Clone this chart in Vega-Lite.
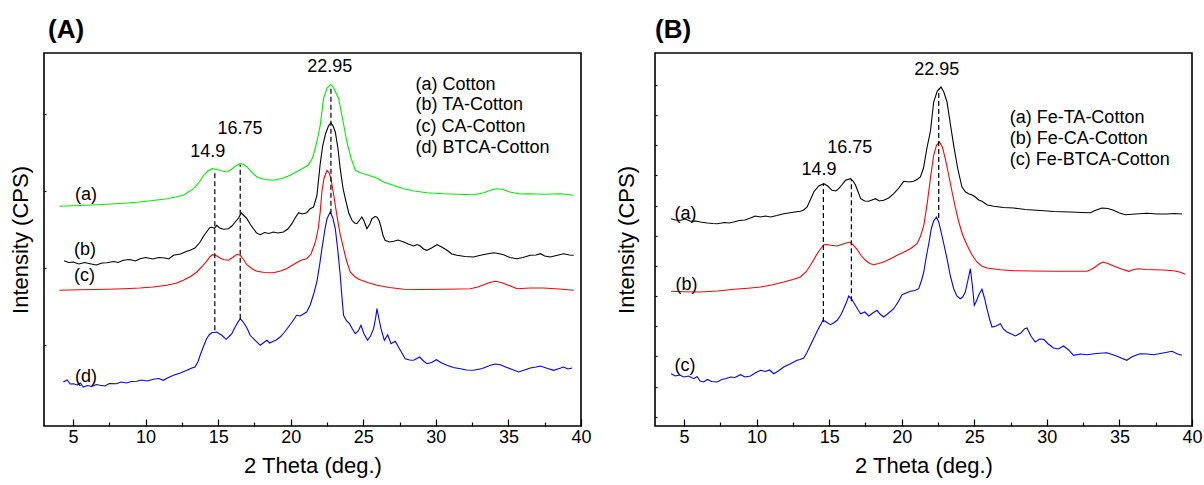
{
  "$schema": "https://vega.github.io/schema/vega-lite/v6.json",
  "padding": {"left": 8, "top": 16, "right": 5, "bottom": 2},
  "background": "white",
  "spacing": 74,
  "bounds": "flush",
  "resolve": {"scale": {"color": "independent"}},
  "config": {
    "view": {"stroke": "#000", "strokeWidth": 1.6},
    "font": "Liberation Sans",
    "axis": {"domain": false, "grid": false, "tickColor": "#000", "tickWidth": 1.2, "labelFont": "Liberation Sans", "labelFontSize": 18, "labelColor": "#000", "titleFont": "Liberation Sans", "titleFontSize": 22, "titleFontWeight": "normal", "titleColor": "#000"},
    "title": {"font": "Liberation Sans", "fontSize": 26, "fontWeight": "bold", "anchor": "start", "frame": "group", "color": "#000", "offset": 10},
    "text": {"font": "Liberation Sans", "fontSize": 18, "color": "#000"}
  },
  "hconcat": [
    {
      "width": 537,
      "height": 373,
      "title": {"text": "(A)", "dx": 4},
      "encoding": {
        "x": {"field": "x", "type": "quantitative", "scale": {"domain": [3, 40], "nice": false, "zero": false},
          "axis": {"values": [5, 7.5, 10, 12.5, 15, 17.5, 20, 22.5, 25, 27.5, 30, 32.5, 35, 37.5, 40], "labelExpr": "datum.value % 5 === 0 ? datum.label : ''", "tickSize": {"condition": {"test": "datum.value % 5 === 0", "value": -7}, "value": -4}, "labelPadding": 9, "labelFlush": false, "labelOverlap": false, "title": "2 Theta (deg.)", "titlePadding": 6}},
        "y": {"field": "y", "type": "quantitative", "scale": {"domain": [0, 373], "nice": false, "zero": false},
          "axis": {"values": [81, 158, 235, 312], "labels": false, "tickSize": -2, "title": "Intensity (CPS)", "titlePadding": 11}}
      },
      "layer": [
        {
          "data": {"values": [
{"s":"a","x":4.06,"y":219.7},{"s":"a","x":5,"y":220.3},{"s":"a","x":6,"y":220.8},{"s":"a","x":7.3,"y":221.7},{"s":"a","x":8.5,"y":222.8},{"s":"a","x":9.6,"y":224},{"s":"a","x":10.5,"y":225.5},{"s":"a","x":11.5,"y":227.3},{"s":"a","x":12.6,"y":230.7},{"s":"a","x":13.3,"y":237.3},{"s":"a","x":13.7,"y":244},{"s":"a","x":14.0,"y":250.7},{"s":"a","x":14.3,"y":255},{"s":"a","x":14.6,"y":257.3},{"s":"a","x":14.9,"y":256.5},{"s":"a","x":15.3,"y":255},{"s":"a","x":15.6,"y":254},{"s":"a","x":15.9,"y":256.5},{"s":"a","x":16.2,"y":260},{"s":"a","x":16.5,"y":262.3},{"s":"a","x":16.75,"y":261.5},{"s":"a","x":17.0,"y":259},{"s":"a","x":17.3,"y":254},{"s":"a","x":17.67,"y":249},{"s":"a","x":18.2,"y":246.5},{"s":"a","x":18.8,"y":245.7},{"s":"a","x":19.4,"y":247.5},{"s":"a","x":19.97,"y":250.7},{"s":"a","x":20.65,"y":256.3},{"s":"a","x":21.2,"y":260.7},{"s":"a","x":21.5,"y":268},{"s":"a","x":21.8,"y":284},{"s":"a","x":22.03,"y":300.7},{"s":"a","x":22.26,"y":327.3},{"s":"a","x":22.5,"y":338},{"s":"a","x":22.77,"y":341.7},{"s":"a","x":23.0,"y":337},{"s":"a","x":23.3,"y":327.3},{"s":"a","x":23.6,"y":305},{"s":"a","x":23.87,"y":284},{"s":"a","x":24.15,"y":268},{"s":"a","x":24.45,"y":255.7},{"s":"a","x":24.8,"y":253.3},{"s":"a","x":25.2,"y":251.5},{"s":"a","x":25.7,"y":249},{"s":"a","x":26.0,"y":247.5},{"s":"a","x":26.4,"y":244},{"s":"a","x":27.1,"y":240.5},{"s":"a","x":27.78,"y":237.3},{"s":"a","x":28.5,"y":235},{"s":"a","x":29.39,"y":233.3},{"s":"a","x":30.5,"y":232.2},{"s":"a","x":31.5,"y":231.8},{"s":"a","x":32.6,"y":231.3},{"s":"a","x":33.3,"y":233.3},{"s":"a","x":33.8,"y":236},{"s":"a","x":34.2,"y":237.3},{"s":"a","x":34.6,"y":236.5},{"s":"a","x":35.1,"y":234},{"s":"a","x":35.8,"y":232},{"s":"a","x":36.5,"y":232.3},{"s":"a","x":37.4,"y":231.7},{"s":"a","x":38.6,"y":232.3},{"s":"a","x":39.5,"y":230.7},
{"s":"b","x":4.38,"y":165.3},{"s":"b","x":4.7,"y":163.5},{"s":"b","x":5.02,"y":164},{"s":"b","x":5.4,"y":162},{"s":"b","x":5.8,"y":163.5},{"s":"b","x":6.17,"y":162.3},{"s":"b","x":6.6,"y":161},{"s":"b","x":7.0,"y":163},{"s":"b","x":7.32,"y":163.3},{"s":"b","x":7.8,"y":164.5},{"s":"b","x":8.1,"y":163.5},{"s":"b","x":8.47,"y":165.7},{"s":"b","x":8.9,"y":166.5},{"s":"b","x":9.3,"y":165},{"s":"b","x":9.62,"y":167.3},{"s":"b","x":10.0,"y":168.5},{"s":"b","x":10.5,"y":167},{"s":"b","x":10.9,"y":168.5},{"s":"b","x":11.34,"y":168},{"s":"b","x":11.6,"y":167},{"s":"b","x":11.92,"y":170.7},{"s":"b","x":12.4,"y":172},{"s":"b","x":12.8,"y":174.5},{"s":"b","x":13.07,"y":175.7},{"s":"b","x":13.4,"y":178},{"s":"b","x":13.76,"y":184},{"s":"b","x":14.0,"y":190},{"s":"b","x":14.2,"y":194},{"s":"b","x":14.4,"y":198},{"s":"b","x":14.56,"y":199},{"s":"b","x":14.75,"y":197.5},{"s":"b","x":14.9,"y":200.7},{"s":"b","x":15.1,"y":198},{"s":"b","x":15.37,"y":196.7},{"s":"b","x":15.7,"y":197.3},{"s":"b","x":15.95,"y":200},{"s":"b","x":16.17,"y":204},{"s":"b","x":16.4,"y":208},{"s":"b","x":16.6,"y":213},{"s":"b","x":16.8,"y":210},{"s":"b","x":16.98,"y":207.3},{"s":"b","x":17.2,"y":202},{"s":"b","x":17.43,"y":197.3},{"s":"b","x":17.65,"y":193},{"s":"b","x":17.9,"y":191.3},{"s":"b","x":18.2,"y":193.5},{"s":"b","x":18.5,"y":192.5},{"s":"b","x":18.8,"y":194},{"s":"b","x":19.1,"y":193},{"s":"b","x":19.5,"y":194},{"s":"b","x":19.8,"y":197},{"s":"b","x":20.08,"y":202.3},{"s":"b","x":20.3,"y":208},{"s":"b","x":20.54,"y":213.3},{"s":"b","x":20.8,"y":212},{"s":"b","x":21.1,"y":213.3},{"s":"b","x":21.34,"y":217.3},{"s":"b","x":21.57,"y":219},{"s":"b","x":21.8,"y":230},{"s":"b","x":22.03,"y":262},{"s":"b","x":22.2,"y":280},{"s":"b","x":22.4,"y":292.3},{"s":"b","x":22.6,"y":300},{"s":"b","x":22.77,"y":303},{"s":"b","x":22.92,"y":300},{"s":"b","x":23.07,"y":294},{"s":"b","x":23.25,"y":278},{"s":"b","x":23.41,"y":257.3},{"s":"b","x":23.6,"y":238},{"s":"b","x":23.76,"y":227.3},{"s":"b","x":24.0,"y":213},{"s":"b","x":24.22,"y":205.7},{"s":"b","x":24.4,"y":203},{"s":"b","x":24.56,"y":202.3},{"s":"b","x":24.75,"y":206},{"s":"b","x":24.9,"y":209},{"s":"b","x":25.05,"y":205},{"s":"b","x":25.25,"y":197.3},{"s":"b","x":25.45,"y":202},{"s":"b","x":25.6,"y":207.3},{"s":"b","x":25.8,"y":209.5},{"s":"b","x":25.94,"y":209},{"s":"b","x":26.1,"y":205},{"s":"b","x":26.22,"y":199},{"s":"b","x":26.35,"y":191},{"s":"b","x":26.5,"y":185.7},{"s":"b","x":26.8,"y":184},{"s":"b","x":27.1,"y":184.7},{"s":"b","x":27.4,"y":186},{"s":"b","x":27.78,"y":184},{"s":"b","x":28.1,"y":182},{"s":"b","x":28.47,"y":180},{"s":"b","x":28.7,"y":181.5},{"s":"b","x":28.93,"y":180},{"s":"b","x":29.15,"y":177},{"s":"b","x":29.39,"y":175.7},{"s":"b","x":29.7,"y":178},{"s":"b","x":30.08,"y":181.3},{"s":"b","x":30.4,"y":179},{"s":"b","x":30.77,"y":175.7},{"s":"b","x":31.1,"y":172},{"s":"b","x":31.46,"y":170.7},{"s":"b","x":32.0,"y":169.5},{"s":"b","x":32.6,"y":169},{"s":"b","x":33.0,"y":170.5},{"s":"b","x":33.5,"y":172},{"s":"b","x":33.98,"y":173.3},{"s":"b","x":34.3,"y":172.5},{"s":"b","x":34.67,"y":171.3},{"s":"b","x":35.1,"y":168.5},{"s":"b","x":35.59,"y":167.3},{"s":"b","x":36.0,"y":168.5},{"s":"b","x":36.51,"y":170.7},{"s":"b","x":36.9,"y":171},{"s":"b","x":37.2,"y":172.3},{"s":"b","x":37.5,"y":170},{"s":"b","x":37.89,"y":169},{"s":"b","x":38.3,"y":170.5},{"s":"b","x":38.81,"y":172.3},{"s":"b","x":39.2,"y":171},{"s":"b","x":39.5,"y":170.7},
{"s":"c","x":4.06,"y":135.7},{"s":"c","x":5.5,"y":136.2},{"s":"c","x":7.32,"y":136.7},{"s":"c","x":8.5,"y":137.3},{"s":"c","x":9.62,"y":138},{"s":"c","x":10.5,"y":139},{"s":"c","x":11.46,"y":140.7},{"s":"c","x":12.1,"y":142.8},{"s":"c","x":12.6,"y":145.7},{"s":"c","x":13.1,"y":149.5},{"s":"c","x":13.53,"y":154},{"s":"c","x":13.9,"y":159.5},{"s":"c","x":14.2,"y":164.7},{"s":"c","x":14.45,"y":169.5},{"s":"c","x":14.63,"y":171.3},{"s":"c","x":14.85,"y":170.5},{"s":"c","x":15.13,"y":168},{"s":"c","x":15.4,"y":166.3},{"s":"c","x":15.7,"y":165.7},{"s":"c","x":16.0,"y":168.5},{"s":"c","x":16.29,"y":171.7},{"s":"c","x":16.52,"y":170.7},{"s":"c","x":16.75,"y":166.5},{"s":"c","x":16.98,"y":161.3},{"s":"c","x":17.3,"y":157.5},{"s":"c","x":17.67,"y":154.7},{"s":"c","x":18.2,"y":153.5},{"s":"c","x":18.8,"y":153.3},{"s":"c","x":19.3,"y":155},{"s":"c","x":19.7,"y":157.3},{"s":"c","x":20.4,"y":163.3},{"s":"c","x":20.75,"y":166},{"s":"c","x":21.1,"y":167.3},{"s":"c","x":21.4,"y":172},{"s":"c","x":21.7,"y":184},{"s":"c","x":21.9,"y":198},{"s":"c","x":22.03,"y":214},{"s":"c","x":22.15,"y":235},{"s":"c","x":22.3,"y":248},{"s":"c","x":22.5,"y":255.7},{"s":"c","x":22.65,"y":253},{"s":"c","x":22.77,"y":247.3},{"s":"c","x":22.95,"y":232},{"s":"c","x":23.18,"y":210.7},{"s":"c","x":23.4,"y":192},{"s":"c","x":23.64,"y":177.3},{"s":"c","x":23.85,"y":165},{"s":"c","x":24.1,"y":154},{"s":"c","x":24.4,"y":149.5},{"s":"c","x":24.68,"y":146.7},{"s":"c","x":25.3,"y":143.5},{"s":"c","x":25.94,"y":140.7},{"s":"c","x":26.8,"y":138.5},{"s":"c","x":27.78,"y":136.7},{"s":"c","x":29.0,"y":136.5},{"s":"c","x":30.54,"y":136.7},{"s":"c","x":31.5,"y":137},{"s":"c","x":32.37,"y":137.3},{"s":"c","x":32.9,"y":139},{"s":"c","x":33.3,"y":141.3},{"s":"c","x":33.7,"y":143.5},{"s":"c","x":34.1,"y":144.7},{"s":"c","x":34.5,"y":143.5},{"s":"c","x":34.9,"y":141.3},{"s":"c","x":35.3,"y":139},{"s":"c","x":35.59,"y":137.3},{"s":"c","x":36.5,"y":138},{"s":"c","x":37.4,"y":138},{"s":"c","x":38.5,"y":137},{"s":"c","x":39.5,"y":135.7},
{"s":"d","x":4.33,"y":44},{"s":"d","x":4.6,"y":46},{"s":"d","x":4.8,"y":42},{"s":"d","x":5.02,"y":42.3},{"s":"d","x":5.3,"y":41},{"s":"d","x":5.5,"y":43},{"s":"d","x":5.71,"y":39},{"s":"d","x":6.0,"y":40.5},{"s":"d","x":6.3,"y":39.5},{"s":"d","x":6.6,"y":41.5},{"s":"d","x":6.86,"y":40.7},{"s":"d","x":7.2,"y":40},{"s":"d","x":7.5,"y":42.5},{"s":"d","x":8.0,"y":42.3},{"s":"d","x":8.3,"y":44},{"s":"d","x":8.7,"y":43},{"s":"d","x":9.0,"y":44.5},{"s":"d","x":9.39,"y":44.7},{"s":"d","x":9.7,"y":46},{"s":"d","x":10.1,"y":45},{"s":"d","x":10.54,"y":46.7},{"s":"d","x":10.9,"y":47.5},{"s":"d","x":11.23,"y":45.7},{"s":"d","x":11.5,"y":48},{"s":"d","x":11.92,"y":50.7},{"s":"d","x":12.4,"y":53},{"s":"d","x":12.84,"y":55.7},{"s":"d","x":13.1,"y":57.5},{"s":"d","x":13.4,"y":59},{"s":"d","x":13.6,"y":64},{"s":"d","x":13.76,"y":70.7},{"s":"d","x":14.0,"y":80},{"s":"d","x":14.2,"y":87.3},{"s":"d","x":14.4,"y":91.5},{"s":"d","x":14.56,"y":93.3},{"s":"d","x":14.9,"y":94},{"s":"d","x":15.25,"y":90.7},{"s":"d","x":15.55,"y":86.7},{"s":"d","x":15.75,"y":89.5},{"s":"d","x":15.94,"y":92.3},{"s":"d","x":16.1,"y":97},{"s":"d","x":16.29,"y":102.3},{"s":"d","x":16.52,"y":107.3},{"s":"d","x":16.7,"y":104.5},{"s":"d","x":16.87,"y":100.7},{"s":"d","x":17.05,"y":96},{"s":"d","x":17.2,"y":90.7},{"s":"d","x":17.55,"y":85.7},{"s":"d","x":17.9,"y":80.7},{"s":"d","x":18.1,"y":83},{"s":"d","x":18.36,"y":85.7},{"s":"d","x":18.55,"y":83},{"s":"d","x":18.8,"y":84.7},{"s":"d","x":19.0,"y":86},{"s":"d","x":19.27,"y":89},{"s":"d","x":19.55,"y":93.5},{"s":"d","x":19.84,"y":99},{"s":"d","x":20.1,"y":104},{"s":"d","x":20.4,"y":110.7},{"s":"d","x":20.65,"y":110},{"s":"d","x":20.9,"y":112.3},{"s":"d","x":21.1,"y":114},{"s":"d","x":21.34,"y":121},{"s":"d","x":21.6,"y":133},{"s":"d","x":21.8,"y":144},{"s":"d","x":22.0,"y":162},{"s":"d","x":22.15,"y":177.3},{"s":"d","x":22.35,"y":196},{"s":"d","x":22.5,"y":207.3},{"s":"d","x":22.72,"y":214},{"s":"d","x":22.9,"y":208},{"s":"d","x":23.07,"y":197.3},{"s":"d","x":23.25,"y":175},{"s":"d","x":23.41,"y":150.7},{"s":"d","x":23.55,"y":125},{"s":"d","x":23.64,"y":110.7},{"s":"d","x":23.85,"y":105},{"s":"d","x":24.05,"y":102.3},{"s":"d","x":24.25,"y":97},{"s":"d","x":24.45,"y":92.3},{"s":"d","x":24.65,"y":95},{"s":"d","x":24.84,"y":100.7},{"s":"d","x":25.05,"y":92},{"s":"d","x":25.3,"y":85.7},{"s":"d","x":25.5,"y":90},{"s":"d","x":25.71,"y":97.3},{"s":"d","x":25.85,"y":108},{"s":"d","x":25.94,"y":117.3},{"s":"d","x":26.08,"y":107},{"s":"d","x":26.22,"y":97.3},{"s":"d","x":26.45,"y":85.7},{"s":"d","x":26.68,"y":91.3},{"s":"d","x":26.91,"y":82.3},{"s":"d","x":27.2,"y":84.7},{"s":"d","x":27.55,"y":75.7},{"s":"d","x":27.89,"y":67.3},{"s":"d","x":28.2,"y":66},{"s":"d","x":28.47,"y":65.7},{"s":"d","x":28.88,"y":69},{"s":"d","x":29.15,"y":65},{"s":"d","x":29.39,"y":62.3},{"s":"d","x":29.7,"y":63.5},{"s":"d","x":30.03,"y":66.3},{"s":"d","x":30.4,"y":63},{"s":"d","x":30.77,"y":60.7},{"s":"d","x":31.2,"y":58.5},{"s":"d","x":31.69,"y":57.3},{"s":"d","x":32.1,"y":56},{"s":"d","x":32.6,"y":55.7},{"s":"d","x":33.2,"y":57.5},{"s":"d","x":33.75,"y":60.7},{"s":"d","x":34.1,"y":62},{"s":"d","x":34.44,"y":61.3},{"s":"d","x":34.8,"y":59},{"s":"d","x":35.13,"y":57.3},{"s":"d","x":35.7,"y":54},{"s":"d","x":36.1,"y":56},{"s":"d","x":36.51,"y":58},{"s":"d","x":36.9,"y":59},{"s":"d","x":37.2,"y":60},{"s":"d","x":37.6,"y":58},{"s":"d","x":38.12,"y":55.7},{"s":"d","x":38.5,"y":57.5},{"s":"d","x":38.81,"y":59},{"s":"d","x":39.1,"y":57},{"s":"d","x":39.39,"y":58}
          ]},
          "mark": {"type": "line", "strokeWidth": 1.1},
          "encoding": {
            "color": {"field": "s", "type": "nominal", "scale": {"domain": ["a", "b", "c", "d"], "range": ["#00ee00", "#000000", "#ff0000", "#0000ff"]}, "legend": null}
          }
        },
        {
          "data": {"values": [{"x": 14.77, "y": 95.7, "y2": 255.7}, {"x": 16.52, "y": 107.3, "y2": 261.3}, {"x": 22.77, "y": 212.3, "y2": 339}]},
          "mark": {"type": "rule", "strokeDash": [5, 3], "color": "#000", "strokeWidth": 1.2},
          "encoding": {"y2": {"field": "y2"}}
        },
        {
          "data": {"values": [{"x": 14.28, "y": 274, "t": "14.9"}, {"x": 16.5, "y": 297.3, "t": "16.75"}, {"x": 22.69, "y": 359.5, "t": "22.95"}]},
          "mark": {"type": "text", "align": "center", "baseline": "middle"},
          "encoding": {"text": {"field": "t"}}
        },
        {
          "data": {"values": [{"x": 5.14, "y": 230.7, "t": "(a)"}, {"x": 5.07, "y": 175.7, "t": "(b)"}, {"x": 5.07, "y": 150.5, "t": "(c)"}, {"x": 5.14, "y": 49, "t": "(d)"}, {"x": 28.6, "y": 341.3, "t": "(a) Cotton"}, {"x": 28.6, "y": 320.7, "t": "(b) TA-Cotton"}, {"x": 28.6, "y": 299, "t": "(c) CA-Cotton"}, {"x": 28.6, "y": 278, "t": "(d) BTCA-Cotton"}]},
          "mark": {"type": "text", "align": "left", "baseline": "middle"},
          "encoding": {"text": {"field": "t"}}
        }
      ]
    },
    {
      "width": 537,
      "height": 373,
      "title": {"text": "(B)", "dx": 0},
      "encoding": {
        "x": {"field": "x", "type": "quantitative", "scale": {"domain": [3, 40], "nice": false, "zero": false},
          "axis": {"values": [5, 7.5, 10, 12.5, 15, 17.5, 20, 22.5, 25, 27.5, 30, 32.5, 35, 37.5, 40], "labelExpr": "datum.value % 5 === 0 ? datum.label : ''", "tickSize": {"condition": {"test": "datum.value % 5 === 0", "value": -7}, "value": -4}, "labelPadding": 9, "labelFlush": false, "labelOverlap": false, "title": "2 Theta (deg.)", "titlePadding": 6}},
        "y": {"field": "y", "type": "quantitative", "scale": {"domain": [0, 373], "nice": false, "zero": false},
          "axis": {"values": [9, 39, 70, 100, 130, 160, 190, 220, 251, 281, 311, 341], "labels": false, "tickSize": -2, "title": "Intensity (CPS)", "titlePadding": 16}}
      },
      "layer": [
        {
          "data": {"values": [
{"s":"a","x":4.11,"y":207.3},{"s":"a","x":4.4,"y":206},{"s":"a","x":4.76,"y":205.7},{"s":"a","x":5.1,"y":207},{"s":"a","x":5.44,"y":204.7},{"s":"a","x":5.8,"y":205},{"s":"a","x":6.13,"y":204},{"s":"a","x":6.6,"y":203},{"s":"a","x":7.0,"y":202.5},{"s":"a","x":7.28,"y":202.3},{"s":"a","x":7.8,"y":203.5},{"s":"a","x":8.1,"y":203},{"s":"a","x":8.43,"y":204},{"s":"a","x":8.8,"y":205.5},{"s":"a","x":9.2,"y":206},{"s":"a","x":9.58,"y":208},{"s":"a","x":9.9,"y":210},{"s":"a","x":10.27,"y":209},{"s":"a","x":10.6,"y":210},{"s":"a","x":10.96,"y":209},{"s":"a","x":11.4,"y":210.5},{"s":"a","x":11.87,"y":212.3},{"s":"a","x":12.4,"y":213.5},{"s":"a","x":13.02,"y":214.7},{"s":"a","x":13.25,"y":216},{"s":"a","x":13.48,"y":219},{"s":"a","x":13.7,"y":226},{"s":"a","x":13.94,"y":234},{"s":"a","x":14.28,"y":240},{"s":"a","x":14.63,"y":242.3},{"s":"a","x":14.9,"y":240},{"s":"a","x":15.2,"y":235.7},{"s":"a","x":15.45,"y":235},{"s":"a","x":15.66,"y":237.3},{"s":"a","x":15.9,"y":241.5},{"s":"a","x":16.12,"y":245.7},{"s":"a","x":16.47,"y":247.3},{"s":"a","x":16.65,"y":245},{"s":"a","x":16.82,"y":240.7},{"s":"a","x":17.0,"y":234},{"s":"a","x":17.17,"y":227.3},{"s":"a","x":17.45,"y":225},{"s":"a","x":17.73,"y":224.7},{"s":"a","x":17.95,"y":226},{"s":"a","x":18.19,"y":227.3},{"s":"a","x":18.45,"y":225},{"s":"a","x":18.76,"y":225.7},{"s":"a","x":19.1,"y":228},{"s":"a","x":19.45,"y":232.3},{"s":"a","x":19.8,"y":238},{"s":"a","x":20.14,"y":244.7},{"s":"a","x":20.5,"y":244},{"s":"a","x":20.83,"y":244.7},{"s":"a","x":21.1,"y":247},{"s":"a","x":21.29,"y":249},{"s":"a","x":21.5,"y":258},{"s":"a","x":21.75,"y":279},{"s":"a","x":21.98,"y":295},{"s":"a","x":22.2,"y":324},{"s":"a","x":22.45,"y":335},{"s":"a","x":22.71,"y":339},{"s":"a","x":22.9,"y":334},{"s":"a","x":23.12,"y":324},{"s":"a","x":23.35,"y":302},{"s":"a","x":23.58,"y":280.7},{"s":"a","x":23.85,"y":258},{"s":"a","x":24.15,"y":239},{"s":"a","x":24.4,"y":234},{"s":"a","x":24.61,"y":232.3},{"s":"a","x":24.85,"y":231},{"s":"a","x":25.07,"y":229},{"s":"a","x":25.3,"y":226},{"s":"a","x":25.53,"y":224.7},{"s":"a","x":25.9,"y":221},{"s":"a","x":26.34,"y":219.7},{"s":"a","x":27.0,"y":218.5},{"s":"a","x":27.71,"y":218},{"s":"a","x":28.5,"y":216.5},{"s":"a","x":29.32,"y":215.7},{"s":"a","x":30.5,"y":214.5},{"s":"a","x":31.62,"y":214},{"s":"a","x":32.4,"y":213.5},{"s":"a","x":33.0,"y":213.3},{"s":"a","x":33.4,"y":216},{"s":"a","x":33.8,"y":218},{"s":"a","x":34.2,"y":217.5},{"s":"a","x":34.6,"y":215.7},{"s":"a","x":35.0,"y":213},{"s":"a","x":35.41,"y":211.3},{"s":"a","x":36.1,"y":212},{"s":"a","x":36.9,"y":212.7},{"s":"a","x":37.6,"y":212},{"s":"a","x":38.27,"y":212},{"s":"a","x":38.8,"y":212.5},{"s":"a","x":39.3,"y":212},
{"s":"b","x":4.11,"y":134.7},{"s":"b","x":5.0,"y":134.3},{"s":"b","x":6.13,"y":134},{"s":"b","x":7.3,"y":135},{"s":"b","x":8.43,"y":136.7},{"s":"b","x":9.4,"y":137.8},{"s":"b","x":10.27,"y":139},{"s":"b","x":11.1,"y":141.3},{"s":"b","x":11.87,"y":144},{"s":"b","x":12.5,"y":146.5},{"s":"b","x":13.02,"y":149},{"s":"b","x":13.4,"y":154},{"s":"b","x":13.71,"y":160.7},{"s":"b","x":13.95,"y":166.5},{"s":"b","x":14.17,"y":172.3},{"s":"b","x":14.4,"y":177},{"s":"b","x":14.63,"y":181.3},{"s":"b","x":14.85,"y":181.5},{"s":"b","x":15.09,"y":180.7},{"s":"b","x":15.55,"y":180},{"s":"b","x":16.0,"y":182.3},{"s":"b","x":16.42,"y":184},{"s":"b","x":16.65,"y":181},{"s":"b","x":16.92,"y":176.7},{"s":"b","x":17.2,"y":170.5},{"s":"b","x":17.5,"y":165.7},{"s":"b","x":17.8,"y":162.5},{"s":"b","x":18.07,"y":161.3},{"s":"b","x":18.4,"y":162.5},{"s":"b","x":18.76,"y":164},{"s":"b","x":19.2,"y":167},{"s":"b","x":19.68,"y":170.7},{"s":"b","x":20.1,"y":173.5},{"s":"b","x":20.6,"y":177.3},{"s":"b","x":21.06,"y":182.3},{"s":"b","x":21.3,"y":190},{"s":"b","x":21.52,"y":200.7},{"s":"b","x":21.75,"y":222},{"s":"b","x":21.98,"y":248},{"s":"b","x":22.2,"y":270.7},{"s":"b","x":22.4,"y":281},{"s":"b","x":22.6,"y":284},{"s":"b","x":22.8,"y":279},{"s":"b","x":23.0,"y":267.3},{"s":"b","x":23.25,"y":250},{"s":"b","x":23.47,"y":234},{"s":"b","x":23.7,"y":218},{"s":"b","x":23.93,"y":204},{"s":"b","x":24.2,"y":191},{"s":"b","x":24.5,"y":180.7},{"s":"b","x":24.85,"y":171},{"s":"b","x":25.18,"y":164},{"s":"b","x":25.5,"y":160},{"s":"b","x":25.87,"y":158},{"s":"b","x":26.8,"y":156.3},{"s":"b","x":27.71,"y":155.3},{"s":"b","x":29.0,"y":155},{"s":"b","x":30.46,"y":154.7},{"s":"b","x":31.6,"y":154.7},{"s":"b","x":32.76,"y":154.7},{"s":"b","x":33.05,"y":156.5},{"s":"b","x":33.33,"y":159},{"s":"b","x":33.6,"y":162},{"s":"b","x":33.86,"y":164},{"s":"b","x":34.2,"y":162.5},{"s":"b","x":34.6,"y":160},{"s":"b","x":35.1,"y":157.3},{"s":"b","x":35.64,"y":154.7},{"s":"b","x":36.0,"y":156.5},{"s":"b","x":36.32,"y":157.3},{"s":"b","x":36.8,"y":156.5},{"s":"b","x":37.36,"y":156.3},{"s":"b","x":38.0,"y":156},{"s":"b","x":38.73,"y":155.3},{"s":"b","x":39.2,"y":153.8},{"s":"b","x":39.53,"y":151.7},
{"s":"c","x":4.11,"y":52.3},{"s":"c","x":4.4,"y":50},{"s":"c","x":4.7,"y":51},{"s":"c","x":4.99,"y":49},{"s":"c","x":5.3,"y":50},{"s":"c","x":5.68,"y":47.3},{"s":"c","x":5.9,"y":49.5},{"s":"c","x":6.1,"y":45},{"s":"c","x":6.36,"y":44},{"s":"c","x":6.6,"y":46.5},{"s":"c","x":6.9,"y":44.5},{"s":"c","x":7.28,"y":44},{"s":"c","x":7.6,"y":46.5},{"s":"c","x":7.9,"y":47.5},{"s":"c","x":8.2,"y":49},{"s":"c","x":8.5,"y":48.5},{"s":"c","x":8.89,"y":51.3},{"s":"c","x":9.2,"y":49},{"s":"c","x":9.58,"y":50},{"s":"c","x":9.9,"y":53},{"s":"c","x":10.27,"y":55.7},{"s":"c","x":10.6,"y":54.5},{"s":"c","x":10.9,"y":56},{"s":"c","x":11.18,"y":52.3},{"s":"c","x":11.5,"y":55},{"s":"c","x":11.87,"y":59},{"s":"c","x":12.3,"y":62},{"s":"c","x":12.79,"y":65.7},{"s":"c","x":13.0,"y":66.5},{"s":"c","x":13.25,"y":68},{"s":"c","x":13.45,"y":73},{"s":"c","x":13.71,"y":80.7},{"s":"c","x":13.95,"y":88},{"s":"c","x":14.17,"y":94.7},{"s":"c","x":14.4,"y":101},{"s":"c","x":14.58,"y":105.7},{"s":"c","x":14.8,"y":104},{"s":"c","x":15.09,"y":101.3},{"s":"c","x":15.3,"y":103},{"s":"c","x":15.55,"y":105.7},{"s":"c","x":15.8,"y":111},{"s":"c","x":16.0,"y":117.3},{"s":"c","x":16.2,"y":124},{"s":"c","x":16.35,"y":130},{"s":"c","x":16.55,"y":127},{"s":"c","x":16.8,"y":120.7},{"s":"c","x":17.0,"y":116},{"s":"c","x":17.17,"y":112.3},{"s":"c","x":17.45,"y":114},{"s":"c","x":17.73,"y":110},{"s":"c","x":18.0,"y":113},{"s":"c","x":18.3,"y":115.7},{"s":"c","x":18.5,"y":112},{"s":"c","x":18.76,"y":109},{"s":"c","x":19.1,"y":113},{"s":"c","x":19.45,"y":117.3},{"s":"c","x":19.75,"y":124},{"s":"c","x":20.02,"y":131.3},{"s":"c","x":20.3,"y":133},{"s":"c","x":20.6,"y":134.7},{"s":"c","x":20.9,"y":135.5},{"s":"c","x":21.17,"y":137.3},{"s":"c","x":21.35,"y":145},{"s":"c","x":21.52,"y":154},{"s":"c","x":21.7,"y":170},{"s":"c","x":21.86,"y":182},{"s":"c","x":22.05,"y":198},{"s":"c","x":22.2,"y":205},{"s":"c","x":22.39,"y":209},{"s":"c","x":22.55,"y":204},{"s":"c","x":22.66,"y":197.3},{"s":"c","x":22.9,"y":182},{"s":"c","x":23.12,"y":167.3},{"s":"c","x":23.35,"y":150},{"s":"c","x":23.58,"y":137.3},{"s":"c","x":23.8,"y":130},{"s":"c","x":24.03,"y":127.3},{"s":"c","x":24.2,"y":129},{"s":"c","x":24.38,"y":134},{"s":"c","x":24.55,"y":145},{"s":"c","x":24.73,"y":157.3},{"s":"c","x":24.87,"y":140},{"s":"c","x":25.0,"y":120.7},{"s":"c","x":25.15,"y":125},{"s":"c","x":25.3,"y":130.7},{"s":"c","x":25.53,"y":136.7},{"s":"c","x":25.7,"y":128},{"s":"c","x":25.87,"y":117.3},{"s":"c","x":26.05,"y":107},{"s":"c","x":26.22,"y":99},{"s":"c","x":26.5,"y":100},{"s":"c","x":26.8,"y":102.3},{"s":"c","x":27.0,"y":97},{"s":"c","x":27.25,"y":94},{"s":"c","x":27.55,"y":92},{"s":"c","x":27.83,"y":90},{"s":"c","x":28.2,"y":93},{"s":"c","x":28.45,"y":97},{"s":"c","x":28.63,"y":98},{"s":"c","x":28.9,"y":90},{"s":"c","x":29.2,"y":84},{"s":"c","x":29.5,"y":87},{"s":"c","x":29.78,"y":86.7},{"s":"c","x":30.1,"y":82},{"s":"c","x":30.46,"y":78},{"s":"c","x":30.8,"y":77},{"s":"c","x":31.15,"y":80},{"s":"c","x":31.5,"y":76},{"s":"c","x":31.84,"y":70.7},{"s":"c","x":32.3,"y":72},{"s":"c","x":32.76,"y":71.3},{"s":"c","x":33.4,"y":72.5},{"s":"c","x":34.14,"y":73.3},{"s":"c","x":34.8,"y":70},{"s":"c","x":35.5,"y":65.7},{"s":"c","x":35.9,"y":69.5},{"s":"c","x":36.42,"y":72.3},{"s":"c","x":36.9,"y":72},{"s":"c","x":37.36,"y":71.3},{"s":"c","x":38.0,"y":73},{"s":"c","x":38.62,"y":74.7},{"s":"c","x":39.0,"y":72},{"s":"c","x":39.3,"y":70.7}
          ]},
          "mark": {"type": "line", "strokeWidth": 1.1},
          "encoding": {
            "color": {"field": "s", "type": "nominal", "scale": {"domain": ["a", "b", "c"], "range": ["#000000", "#ff0000", "#0000ff"]}, "legend": null}
          }
        },
        {
          "data": {"values": [{"x": 14.6, "y": 104, "y2": 242.3}, {"x": 16.53, "y": 124.7, "y2": 247.3}, {"x": 22.55, "y": 208, "y2": 337.3}]},
          "mark": {"type": "rule", "strokeDash": [5, 3], "color": "#000", "strokeWidth": 1.2},
          "encoding": {"y2": {"field": "y2"}}
        },
        {
          "data": {"values": [{"x": 14.3, "y": 256.3, "t": "14.9"}, {"x": 16.42, "y": 278, "t": "16.75"}, {"x": 22.42, "y": 355.7, "t": "22.95"}]},
          "mark": {"type": "text", "align": "center", "baseline": "middle"},
          "encoding": {"text": {"field": "t"}}
        },
        {
          "data": {"values": [{"x": 4.34, "y": 212.3, "t": "(a)"}, {"x": 4.41, "y": 141.3, "t": "(b)"}, {"x": 4.34, "y": 60, "t": "(c)"}, {"x": 27.44, "y": 308, "t": "(a) Fe-TA-Cotton"}, {"x": 27.44, "y": 287.3, "t": "(b) Fe-CA-Cotton"}, {"x": 27.44, "y": 265.7, "t": "(c) Fe-BTCA-Cotton"}]},
          "mark": {"type": "text", "align": "left", "baseline": "middle"},
          "encoding": {"text": {"field": "t"}}
        }
      ]
    }
  ]
}
